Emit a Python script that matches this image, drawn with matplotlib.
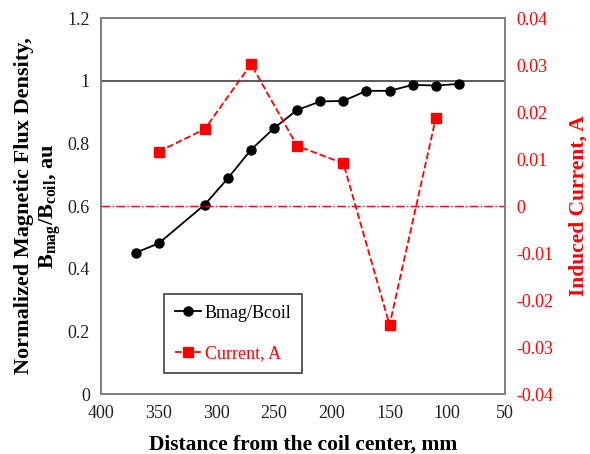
import matplotlib.pyplot as plt

plt.rcParams['font.family'] = 'Liberation Serif'
plt.rcParams['mathtext.fontset'] = 'custom'
plt.rcParams['mathtext.rm'] = 'Liberation Serif'
plt.rcParams['mathtext.bf'] = 'Liberation Serif:bold'

# magnetic flux density (normalized)
dist_b = [370, 350, 310, 290, 270, 250, 230, 210, 190, 170, 150, 130, 110, 90]
bmag = [0.451, 0.481, 0.605, 0.689, 0.780, 0.849, 0.907, 0.934, 0.936, 0.968, 0.968, 0.987, 0.985, 0.990]

# induced current
dist_i = [350, 310, 270, 230, 190, 150, 110]
current = [0.0116, 0.0164, 0.0302, 0.0128, 0.0091, -0.0253, 0.0187]

xticks = [400, 350, 300, 250, 200, 150, 100, 50]
yticks = [0, 0.2, 0.4, 0.6, 0.8, 1, 1.2]
yticks2 = [-0.04, -0.03, -0.02, -0.01, 0, 0.01, 0.02, 0.03, 0.04]

fig, ax = plt.subplots(figsize=(5.9, 4.54), dpi=100)
fig.subplots_adjust(left=0.171, right=0.856, top=0.960, bottom=0.132)

ax.axhline(1, color='#404040', lw=1.2, zorder=1)
l1, = ax.plot(dist_b, bmag, 'o-', color='black', ms=6.5, lw=1.3, label='Bmag/Bcoil')
ax.set_xlim(400, 50)
ax.set_ylim(0, 1.2)
ax.set_xticks(xticks)
ax.set_xticklabels([str(v) for v in xticks])
ax.set_yticks(yticks)
ax.set_yticklabels(['0', '0.2', '0.4', '0.6', '0.8', '1', '1.2'])
ax.tick_params(length=0, labelsize=13, colors='#222222', pad=8)
ax.set_xlabel('Distance from the coil center, mm', fontsize=15.5, fontweight='bold', labelpad=9)
ax.set_ylabel('Normalized Magnetic Flux Density,\n' + r'$\mathbf{B_{mag}/B_{coil}}$, au',
              fontsize=16, fontweight='bold', labelpad=3, linespacing=1.2)

ax2 = ax.twinx()
ax2.axhline(0, color='red', lw=1, ls='-.', zorder=1)
l2, = ax2.plot(dist_i, current, 's--', color='red', ms=7.5, lw=1.3, label='Current, A')
ax2.set_ylim(-0.04, 0.04)
ax2.set_yticks(yticks2)
ax2.set_yticklabels(['-0.04', '-0.03', '-0.02', '-0.01', '0', '0.01', '0.02', '0.03', '0.04'])
ax2.tick_params(length=0, labelsize=13, colors='red', pad=8)
ax2.set_ylabel('Induced Current, A', fontsize=15.5, fontweight='bold', color='red', labelpad=11)

for a in (ax, ax2):
    for s in a.spines.values():
        s.set_color('#808080')
        s.set_linewidth(1.2)

leg = ax.legend([l1, l2], ['Bmag/Bcoil', 'Current, A'], loc='lower left',
                bbox_to_anchor=(0.156, 0.056), borderaxespad=0, fontsize=13, fancybox=False,
                edgecolor='#404040', framealpha=1, borderpad=0.6, labelspacing=1.3,
                handlelength=1.45, handletextpad=0.2)
leg.get_frame().set_linewidth(1.2)
leg.get_texts()[1].set_color('red')

fig.savefig('out.png', dpi=100)
